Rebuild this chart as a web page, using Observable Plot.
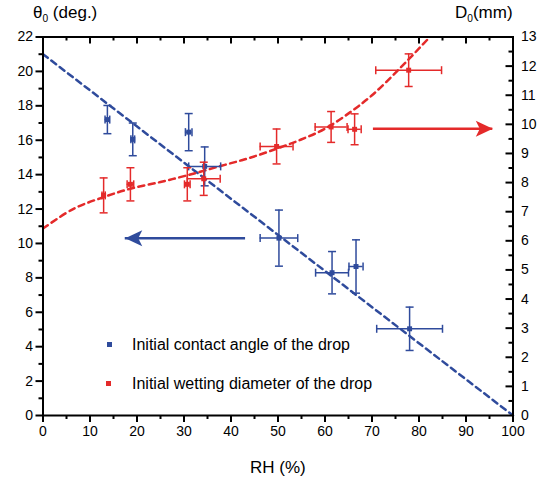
<!DOCTYPE html>
<html>
<head>
<meta charset="utf-8">
<script src="https://cdn.jsdelivr.net/npm/d3@7"></script>
<script src="https://cdn.jsdelivr.net/npm/@observablehq/plot@0.6"></script>
<style>
  body { margin: 0; background: #fff; font-family: "Liberation Sans", Arial, sans-serif; }
  #wrap { position: relative; width: 542px; height: 479px; }
  .t { position: absolute; color: #000; white-space: nowrap; line-height: 1; }
  .t sub { font-size: 0.6em; vertical-align: -0.35em; }
  .leg { position: absolute; font-size: 16px; line-height: 1; white-space: nowrap; }
  .sq { position: absolute; width: 5px; height: 5px; }
</style>
</head>
<body>
<div id="wrap">
  <div class="t" style="left:33px;top:4px;font-size:17px">θ<sub>0</sub> (deg.)</div>
  <div class="t" style="left:455px;top:4px;font-size:17px">D<sub>0</sub>(mm)</div>
  <div class="t" style="left:250px;top:459px;font-size:17px">RH (%)</div>
  <div class="sq" style="left:107px;top:342px;background:#2f4b9c"></div>
  <div class="leg" style="left:132px;top:337px">Initial contact angle of the drop</div>
  <div class="sq" style="left:106px;top:381px;background:#e42a2a"></div>
  <div class="leg" style="left:132px;top:376px">Initial wetting diameter of the drop</div>
</div>
<script>
// ---- data ----
const blueRH     = [13.7, 19.1, 31.0, 34.4, 50.2, 61.5, 66.6, 78.0];
const blueRHErr  = [0.5, 0.4, 0.7, 3.4, 4.0, 3.5, 1.5, 7.0];
const blueTheta  = [17.2, 16.05, 16.47, 14.48, 10.31, 8.30, 8.66, 5.04];
const blueThErr  = [0.82, 0.95, 1.08, 1.13, 1.63, 1.23, 1.55, 1.26];

const redRH      = [12.9, 18.6, 30.7, 34.2, 49.7, 61.3, 66.3, 77.8];
const redRHErr   = [0.35, 0.7, 0.6, 3.5, 3.5, 3.4, 1.4, 7.0];
const redD       = [7.56, 7.94, 7.94, 8.13, 9.24, 9.91, 9.83, 11.86];
const redDErr    = [0.6, 0.57, 0.57, 0.57, 0.6, 0.53, 0.53, 0.56];

// fitted trend lines
const blueFitRH  = [0, 100];
const blueFitTh  = [21, 0];
const redFitRH   = [0, 6.5, 12.9, 18.6, 25, 30.7, 37.8, 44, 50, 54.8, 60, 65.4, 70, 76.1, 82.3];
const redFitD    = [6.42, 7.10, 7.50, 7.79, 8.02, 8.25, 8.57, 8.85, 9.18, 9.47, 9.85, 10.42, 11.0, 11.95, 13.0];

// guide arrows
const blueArrowRH = [43.1, 17.5]; const blueArrowTh = 10.3;
const redArrowRH  = [70.3, 95.7]; const redArrowD   = 9.85;

// axis ticks
const xMajor = d3.range(0, 101, 10);
const xMinor = d3.range(5, 100, 10);
const yMajor = d3.range(0, 23, 2);
const yMinor = d3.range(1, 22, 2);
const dMajor = d3.range(0, 14, 1);
const dMinor = d3.range(0.5, 13, 1);

const THMAX = 22, DMAX = 13, K = THMAX / DMAX; // right axis mapped onto left
const BLUE = "#2f4b9c", RED = "#e42a2a";

const W = 542, H = 479, ML = 42.5, MR = 29.5, MT = 36.5, MB = 64;
const PW = W - ML - MR, PH = H - MT - MB;

const blue = blueRH.map((x, i) => ({x, xe: blueRHErr[i], y: blueTheta[i], ye: blueThErr[i]}));
const red = redRH.map((x, i) => ({x, xe: redRHErr[i], y: redD[i] * K, ye: redDErr[i] * K}));
const blueFit = blueFitRH.map((x, i) => ({x, y: blueFitTh[i]}));
const redFit = redFitRH.map((x, i) => ({x, y: redFitD[i] * K}));

// custom symbols
const hCap = {draw(ctx, size) { const r = Math.sqrt(size / Math.PI); ctx.moveTo(-r, 0); ctx.lineTo(r, 0); }};
const vCap = {draw(ctx, size) { const r = Math.sqrt(size / Math.PI); ctx.moveTo(0, -r); ctx.lineTo(0, r); }};
const headRight = {draw(ctx) { ctx.moveTo(0, 0); ctx.lineTo(-17, -8); ctx.lineTo(-13, 0); ctx.lineTo(-17, 8); ctx.closePath(); }};
const headLeft = {draw(ctx) { ctx.moveTo(0, 0); ctx.lineTo(17, -8); ctx.lineTo(13, 0); ctx.lineTo(17, 8); ctx.closePath(); }};

function errMarks(data, color) {
  return [
    Plot.ruleX(data, {x: "x", y1: d => d.y - d.ye, y2: d => d.y + d.ye, stroke: color, strokeWidth: 1.5}),
    Plot.ruleY(data, {y: "y", x1: d => d.x - d.xe, x2: d => d.x + d.xe, stroke: color, strokeWidth: 1.5}),
    Plot.dot(data, {x: "x", y: d => d.y - d.ye, symbol: hCap, r: 4, stroke: color, strokeWidth: 1.5, fill: "none"}),
    Plot.dot(data, {x: "x", y: d => d.y + d.ye, symbol: hCap, r: 4, stroke: color, strokeWidth: 1.5, fill: "none"}),
    Plot.dot(data, {x: d => d.x - d.xe, y: "y", symbol: vCap, r: 4, stroke: color, strokeWidth: 1.5, fill: "none"}),
    Plot.dot(data, {x: d => d.x + d.xe, y: "y", symbol: vCap, r: 4, stroke: color, strokeWidth: 1.5, fill: "none"}),
    Plot.dot(data, {x: "x", y: "y", symbol: "square", r: 2.8, fill: color, stroke: "none"})
  ];
}

const chart = Plot.plot({
  width: W,
  height: H,
  marginLeft: ML,
  marginRight: MR,
  marginTop: MT,
  marginBottom: MB,
  style: {fontFamily: "'Liberation Sans', Arial, sans-serif", fontSize: "14px", color: "#000", background: "#fff"},
  x: {domain: [0, 100], axis: null},
  y: {domain: [0, THMAX], axis: null},
  marks: [
    // fits
    Plot.line(blueFit, {x: "x", y: "y", stroke: BLUE, strokeWidth: 2.5, strokeDasharray: "6,4.5"}),
    Plot.line(redFit, {x: "x", y: "y", stroke: RED, strokeWidth: 2.5, strokeDasharray: "6,4.5", curve: "catmull-rom", clip: true}),
    // arrows
    Plot.ruleY([blueArrowTh], {y: d => d, x1: blueArrowRH[0], x2: blueArrowRH[1], stroke: BLUE, strokeWidth: 2.5}),
    Plot.dot([blueArrowTh], {x: blueArrowRH[1], y: d => d, symbol: headLeft, r: 5, fill: BLUE, stroke: "none"}),
    Plot.ruleY([redArrowD * K], {y: d => d, x1: redArrowRH[0], x2: redArrowRH[1], stroke: RED, strokeWidth: 2.5}),
    Plot.dot([redArrowD * K], {x: redArrowRH[1], y: d => d, symbol: headRight, r: 5, fill: RED, stroke: "none"}),
    // data with error bars
    ...errMarks(blue, BLUE),
    ...errMarks(red, RED),
    // axes: left
    Plot.axisY(yMajor, {anchor: "left", tickSize: 7, tickPadding: 3, strokeWidth: 2, fontSize: 14, label: null}),
    Plot.axisY(yMinor, {anchor: "left", tickSize: 4, strokeWidth: 2, tickFormat: () => "", label: null}),
    // bottom
    Plot.axisX(xMajor, {anchor: "bottom", tickSize: 7, tickPadding: 4, strokeWidth: 2, fontSize: 14, label: null}),
    Plot.axisX(xMinor, {anchor: "bottom", tickSize: 4, strokeWidth: 2, tickFormat: () => "", label: null}),
    // top inward ticks
    Plot.tickX(xMajor.slice(1, -1), {x: d => d, insetBottom: PH - 7, stroke: "#000", strokeWidth: 2}),
    Plot.tickX(xMinor, {x: d => d, insetBottom: PH - 4, stroke: "#000", strokeWidth: 2}),
    // right axis (D0) inward ticks + labels
    Plot.tickY(dMajor.slice(1, -1), {y: d => d * K, insetLeft: PW - 7, stroke: "#000", strokeWidth: 2}),
    Plot.tickY(dMinor, {y: d => d * K, insetLeft: PW - 4, stroke: "#000", strokeWidth: 2}),
    Plot.text(dMajor, {x: () => 100, y: d => d * K, text: d => String(d), textAnchor: "start", dx: 8, fontSize: 14, fill: "#000"}),
    Plot.frame({stroke: "#000", strokeWidth: 2})
  ]
});
document.getElementById("wrap").prepend(chart);
chart.style.position = "absolute";
chart.style.left = "0";
chart.style.top = "0";
</script>
</body>
</html>
